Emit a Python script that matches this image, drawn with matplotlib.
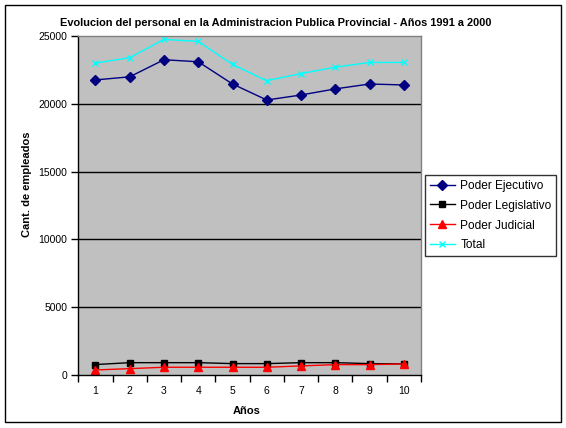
import matplotlib
matplotlib.use("Agg")
import matplotlib.pyplot as plt
from matplotlib.patches import Rectangle
from matplotlib.ticker import FixedLocator, NullFormatter

plt.rcParams['font.family'] = ['Liberation Sans', 'DejaVu Sans']

years = [1, 2, 3, 4, 5, 6, 7, 8, 9, 10]
ejecutivo = [21760, 21990, 23250, 23100, 21460, 20280, 20650, 21100, 21460, 21390]
legislativo = [770, 910, 910, 910, 840, 840, 910, 910, 840, 815]
judicial = [370, 470, 570, 570, 570, 570, 670, 765, 765, 815]
total = [23000, 23400, 24750, 24600, 22900, 21700, 22230, 22700, 23050, 23050]
yticks = [0, 5000, 10000, 15000, 20000, 25000]

fig = plt.figure(figsize=(5.66, 4.28), dpi=100)
ax = fig.add_axes([78.3/566, 1-375/428, (421-78.3)/566, (375-36)/428])
ax.set_facecolor('#C0C0C0')

ax.plot(years, ejecutivo, color='#000080', marker='D', markersize=5, lw=1.0,
        label='Poder Ejecutivo')
ax.plot(years, legislativo, color='black', marker='s', markersize=5, lw=1.0,
        label='Poder Legislativo')
ax.plot(years, judicial, color='red', marker='^', markersize=6, lw=1.0,
        label='Poder Judicial')
ax.plot(years, total, color='cyan', marker='x', markersize=4, mew=1, lw=1.0,
        label='Total')

ax.set_xlim(0.5, 10.5)
ax.set_ylim(0, 25000)
ax.set_yticks(yticks)
ax.set_yticklabels([str(v) for v in yticks])
for v in yticks[1:-1]:
    ax.axhline(v, color='black', lw=1.0, zorder=0.5)

ax.set_xticks(years)
ax.set_xticklabels([str(y) for y in years])
ax.xaxis.set_minor_locator(FixedLocator([y + 0.5 for y in [0] + years]))
ax.xaxis.set_minor_formatter(NullFormatter())
ax.tick_params(axis='x', which='major', length=0, pad=8, labelsize=7.5)
ax.tick_params(axis='x', which='minor', length=5, width=1, direction='out')
ax.tick_params(axis='y', length=5, width=1, direction='out', pad=3, labelsize=7.5)

for s in ['left', 'bottom']:
    ax.spines[s].set_color('black')
    ax.spines[s].set_linewidth(1.0)
for s in ['top', 'right']:
    ax.spines[s].set_color('#808080')
    ax.spines[s].set_linewidth(1.0)

fig.text(247/566, 1-411/428, 'Años', ha='center', va='center',
         fontsize=8, fontweight='bold')
fig.text(27/566, 1-184/428, 'Cant. de empleados', ha='center', va='center',
         rotation=90, fontsize=8, fontweight='bold')

fig.text(0.487, 1-23/428,
         'Evolucion del personal en la Administracion Publica Provincial - Años 1991 a 2000',
         ha='center', va='center', fontsize=7.9, fontweight='bold')

leg = ax.legend(loc='upper left', bbox_to_anchor=(425/566, 1-175/428),
                bbox_transform=fig.transFigure, fontsize=8.6, frameon=True,
                fancybox=False, shadow=False, edgecolor='black',
                borderaxespad=0, handlelength=2.1, handletextpad=0.45,
                labelspacing=0.66, borderpad=0.4)
leg.get_frame().set_linewidth(1.0)

fig.patches.append(Rectangle((5/566, 1-422/428), (561-5)/566, (422-5)/428,
                             transform=fig.transFigure, fill=False,
                             edgecolor='black', lw=1.0))

fig.savefig('out.png', dpi=100)
